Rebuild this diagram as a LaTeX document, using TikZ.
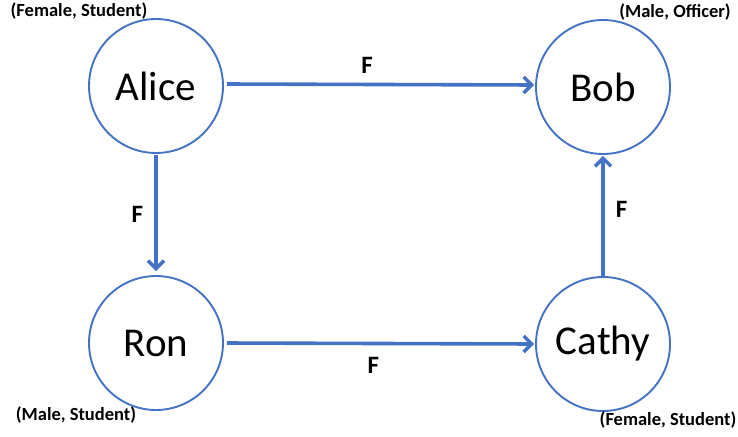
\documentclass[tikz,border=0pt]{standalone}
\usepackage{fontspec}
\setmainfont{Carlito}
\usetikzlibrary{arrows.meta}
\definecolor{ublue}{HTML}{4472C4}
\begin{document}
\begin{tikzpicture}[x=1pt,y=-1pt,
  person/.style={circle,draw=ublue,line width=1.9pt,minimum size=134pt,inner sep=0pt,font=\fontsize{41}{44}\selectfont},
  attr/.style={font=\bfseries\fontsize{18.5}{20}\selectfont,inner sep=0pt},
  rel/.style={draw=ublue,line width=3.6pt,-{Straight Barb[length=8pt,width=16pt,line width=3.4pt]}},
  lbl/.style={font=\bfseries\fontsize{25}{27}\selectfont,inner sep=0pt}]
\useasboundingbox (0,0) rectangle (738,436);
\node[person] (alice) at (156,86) {Alice};
\node[person] (bob) at (603,87) {Bob};
\node[person] (ron) at (156,343) {Ron};
\node[person] (cathy) at (603,344) {Cathy};
\node[attr] (aA) at (79,11) {(Female, Student)};
\node[attr] (aB) at (675,12) {(Male, Officer)};
\node[attr] (aR) at (76,415) {(Male, Student)};
\node[attr] (aC) at (668,420) {(Female, Student)};
\draw[rel,shorten <=3pt,shorten >=1pt] ([yshift=2pt]alice.east) -- ([yshift=2pt]bob.west) node[lbl,pos=0.46,above=9pt] (f1) {F};
\draw[rel,shorten <=1pt,shorten >=4pt] (alice.south) -- (ron.north) node[lbl,pos=0.5,left=11pt] (f2) {F};
\draw[rel,shorten <=3pt,shorten >=1pt] (ron.east) -- (cathy.west) node[lbl,pos=0.48,below=12pt] (f3) {F};
\draw[rel,shorten <=0pt,shorten >=1pt] (cathy.north) -- (bob.south) node[lbl,pos=0.55,right=11pt] (f4) {F};
\end{tikzpicture}
\end{document}
